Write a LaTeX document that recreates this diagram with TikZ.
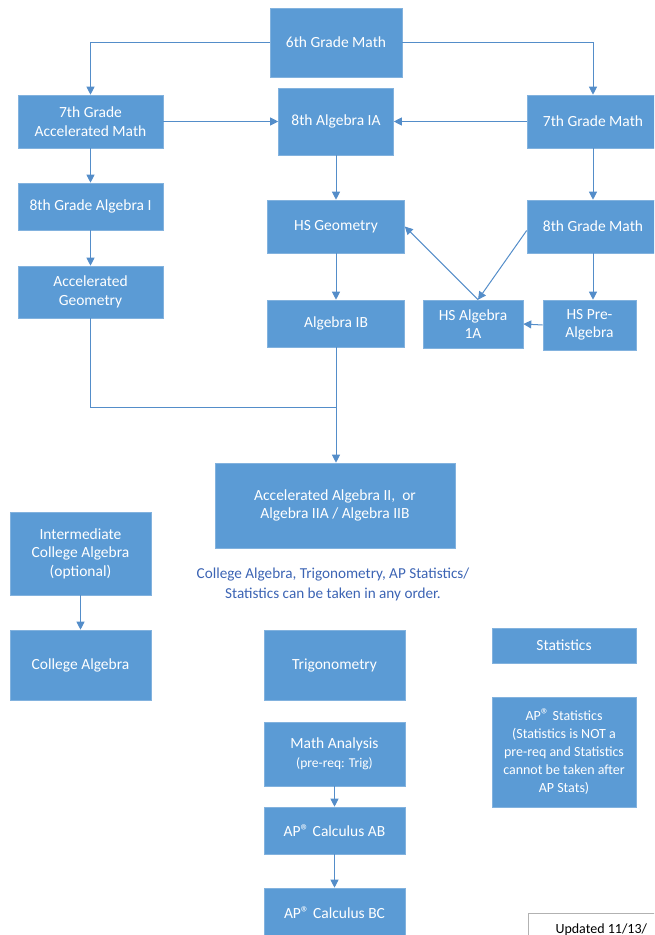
\documentclass[tikz,border=0pt]{standalone}
\usepackage{fontspec}
\setmainfont{Carlito}
\usepackage{tikz}
\usetikzlibrary{arrows.meta,calc}
\definecolor{boxblue}{RGB}{91,155,213}
\definecolor{boxline}{RGB}{130,178,222}
\definecolor{arrowblue}{RGB}{84,141,201}
\definecolor{noteblue}{RGB}{60,100,180}
\newcommand{\regmark}{{\fontsize{17}{17}\selectfont ®}}

\begin{document}
\begin{tikzpicture}[x=1pt,y=-1pt]
\tikzset{course/.style = {shape=rectangle,fill=boxblue,draw=boxline,line width=0.6pt,
  text=white,align=center,inner sep=2pt,font=\fontsize{15.5}{18.5}\selectfont}}
\tikzset{edge/.style = {draw=arrowblue,line width=1pt,-{Triangle[length=8pt,width=8pt]}}}
\tikzset{plain/.style = {draw=arrowblue,line width=1pt}}
\useasboundingbox (0,0) rectangle (654,935);
\clip (0,0) rectangle (654,935);
% courses
\node[course,minimum width=132,minimum height=69] (six) at (336,42.5) {6th Grade Math};
\node[course,minimum width=145,minimum height=53] (accseven) at (90.5,121.5) {7th Grade\\Accelerated Math};
\node[course,minimum width=115,minimum height=67] (algIA) at (336,121.5) {8th Algebra IA};
\node[course,minimum width=132,minimum height=53] (seven) at (593,121.5) {7th Grade Math};
\node[course,minimum width=145,minimum height=47] (algI) at (90.5,206.5) {8th Grade Algebra I};
\node[course,minimum width=137,minimum height=53] (geo) at (336,226.5) {HS Geometry};
\node[course,minimum width=132,minimum height=53] (eight) at (593,226.5) {8th Grade Math};
\node[course,minimum width=145,minimum height=52] (accgeo) at (90.5,292) {Accelerated\\Geometry};
\node[course,minimum width=137,minimum height=47] (algIB) at (336,323.5) {Algebra IB};
\node[course,minimum width=100,minimum height=48] (hsalg) at (473,324) {HS Algebra\\1A};
\node[course,minimum width=93,minimum height=50] (prealg) at (589.5,325) {HS Pre-\\Algebra};
\node[course,minimum width=240,minimum height=85] (algII) at (335,505.5) {Accelerated Algebra II,~~or\\Algebra IIA / Algebra IIB};
\node[course,minimum width=141,minimum height=83] (inter) at (80.5,553.5) {Intermediate\\College Algebra\\(optional)};
\node[course,minimum width=141,minimum height=70] (coll) at (80.5,665) {College Algebra};
\node[course,minimum width=141,minimum height=70] (trig) at (334.5,665) {Trigonometry};
\node[course,minimum width=144,minimum height=35] (stats) at (564,645.5) {Statistics};
\node[course,minimum width=144,minimum height=110,font=\fontsize{14}{18}\selectfont] (apstats) at (564,752) {AP\regmark{} Statistics\\(Statistics is NOT a\\pre-req and Statistics\\cannot be taken after\\AP Stats)};
\node[course,minimum width=141,minimum height=64] (analysis) at (334.5,754) {Math Analysis\\{\fontsize{13.5}{16}\selectfont (pre-req: Trig)}};
\node[course,minimum width=141,minimum height=47] (calcAB) at (334.5,830.5) {AP\regmark{} Calculus AB};
\node[course,minimum width=141,minimum height=50] (calcBC) at (334.5,913) {AP\regmark{} Calculus BC};
% note
\node[text=noteblue,align=center,font=\fontsize{15.2}{20}\selectfont] (note) at (333,584) {College Algebra, Trigonometry, AP Statistics/\\Statistics can be taken in any order.};
\node[draw=black!30,fill=white,anchor=north west,minimum width=140,minimum height=40,
  inner sep=0pt] (updated) at (528,913) {};
\node[anchor=base west,font=\fontsize{14}{16}\selectfont] (updtext) at (552,933) {Updated 11/13/};
%edges
\coordinate (meet) at ($(hsalg.north)+(5,0)$);
\coordinate (join) at (336,407);
\draw[edge] (six.west) -| (accseven.north);
\draw[edge] (six.east) -| (seven.north);
\draw[edge] (accseven.east) -- (algIA.west);
\draw[edge] (seven.west) -- (algIA.east);
\draw[edge] (accseven.south) -- (algI.north);
\draw[edge] (algI.south) -- (accgeo.north);
\draw[edge] (algIA.south) -- (geo.north);
\draw[edge] (seven.south) -- (eight.north);
\draw[edge] (geo.south) -- (algIB.north);
\draw[edge] (eight.south) -- (eight.south |- prealg.north);
\draw[edge] (prealg.west) -- (hsalg.east);
\draw[edge] ($(eight.west)+(0,4)$) -- (meet);
\draw[edge] (meet) -- (geo.east);
\draw[plain] (accgeo.south) |- (join);
\draw[edge] (algIB.south) -- (algIB.south |- algII.north);
\draw[edge] (inter.south) -- (coll.north);
\draw[edge] (analysis.south) -- (calcAB.north);
\draw[edge] (calcAB.south) -- (calcBC.north);
\end{tikzpicture}
\end{document}
